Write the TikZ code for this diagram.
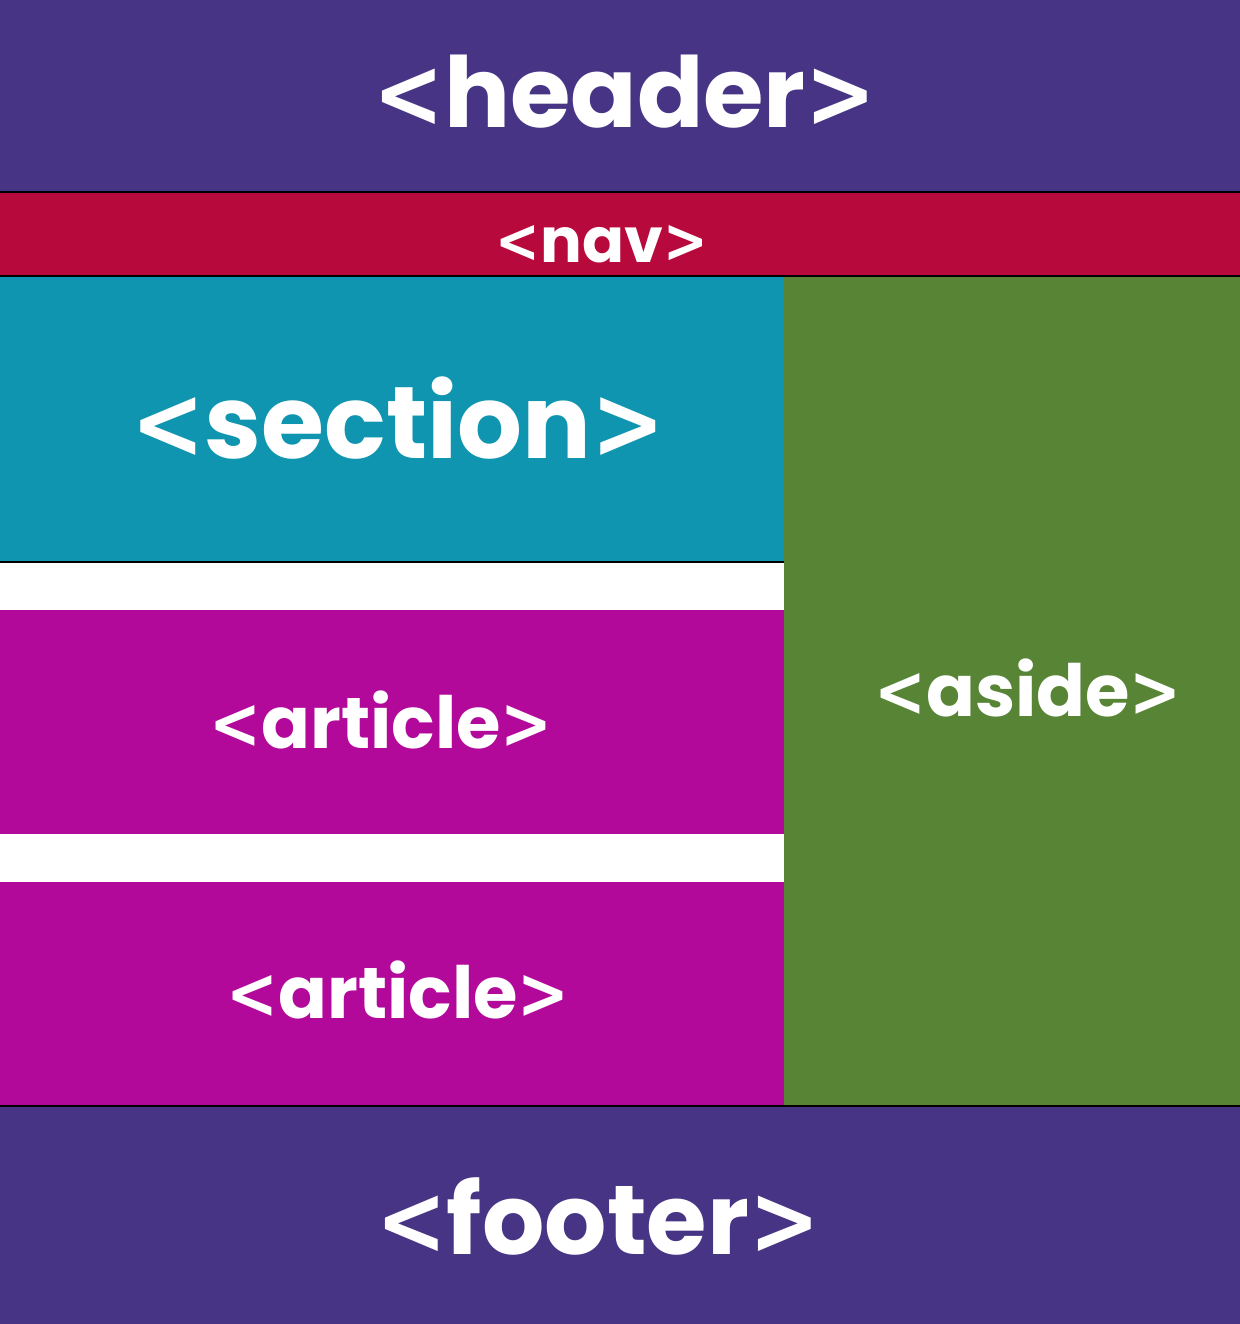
\documentclass[tikz,border=0pt]{standalone}
\usepackage{fontspec}
\setmainfont{Poppins}
\newfontfamily\bracketfont{DejaVu Sans}
\newcommand{\htmltag}[1]{\scalebox{0.86}[1]{\bracketfont\bfseries<}#1\scalebox{0.86}[1]{\bracketfont\bfseries>}}
\usetikzlibrary{positioning}
\definecolor{cheader}{HTML}{473485}
\definecolor{cnav}{HTML}{B8093C}
\definecolor{csection}{HTML}{0F95AF}
\definecolor{carticle}{HTML}{B3099A}
\definecolor{caside}{HTML}{578535}

\begin{document}
\begin{tikzpicture}[x=0.5pt, y=-0.5pt]
    \useasboundingbox (0,0) rectangle (1240,1324);
    % blocks
    \fill[cheader] (0,0) rectangle (1240,192);
    \fill[cnav] (0,192) rectangle (1240,276);
    \fill[csection] (0,276) rectangle (784,562);
    \fill[carticle] (0,610) rectangle (784,834);
    \fill[carticle] (0,882) rectangle (784,1106);
    \fill[caside] (784,276) rectangle (1240,1106);
    \fill[cheader] (0,1106) rectangle (1240,1324);
    % thin rules
    \draw[black, line width=0.6pt] (0,192) -- (1240,192);
    \draw[black, line width=0.6pt] (0,276) -- (1240,276);
    \draw[black, line width=0.6pt] (0,562) -- (784,562);
    \draw[black, line width=0.6pt] (0,1106) -- (1240,1106);
    \begin{scope}[every node/.style={anchor=base, inner sep=0pt, text=white}]
        \node (header) [font=\fontsize{49}{55}\selectfont\bfseries] at (625,127) {\htmltag{header}};
        \node (nav) [font=\fontsize{31}{36}\selectfont\bfseries] at (602,262) {\htmltag{nav}};
        \node (section) [font=\fontsize{51}{57}\selectfont\bfseries] at (398,458) {\htmltag{section}};
        \node (article1) [font=\fontsize{36}{42}\selectfont\bfseries] at (381,748) {\htmltag{article}};
        \node (article2) [font=\fontsize{36}{42}\selectfont\bfseries] at (398,1018) {\htmltag{article}};
        \node (aside) [font=\fontsize{36}{42}\selectfont\bfseries] at (1028,716) {\htmltag{aside}};
        \node (footer) [font=\fontsize{49}{55}\selectfont\bfseries] at (598,1254) {\htmltag{footer}};
    \end{scope}
\end{tikzpicture}
\end{document}
